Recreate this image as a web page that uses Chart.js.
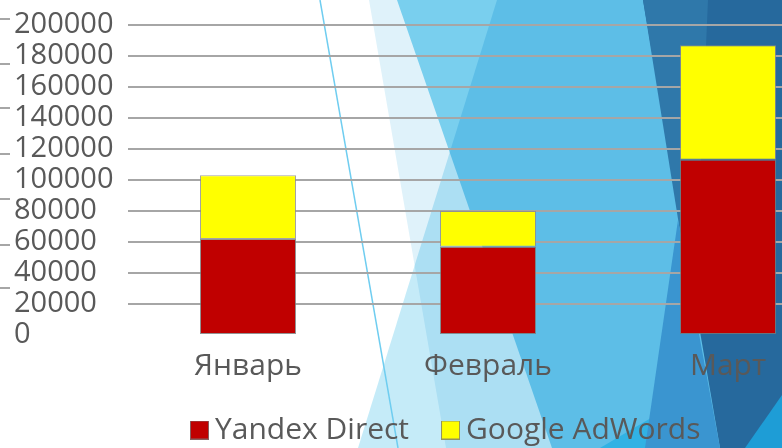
<!DOCTYPE html>
<html>
<head>
<meta charset="utf-8">
<script src="https://cdn.jsdelivr.net/npm/chart.js@4"></script>
<style>
  html, body { margin: 0; padding: 0; overflow: hidden; background: #fff; }
  #wrap { position: relative; width: 782px; height: 448px; overflow: hidden; }
  #bg, #chart { position: absolute; left: 0; top: 0; }
  #bg polygon.m { mix-blend-mode: multiply; }
</style>
</head>
<body>
<div id="wrap">
  <!-- фон слайда (тема Facet) -->
  <svg id="bg" width="782" height="448" viewBox="0 0 782 448">
    <rect width="782" height="448" fill="#ffffff"/>
    <polygon class="m" points="369,0 782,0 782,448 446,448" fill="#dff2fa"/>
    <polygon class="m" points="497,0 782,0 782,448 358,448" fill="#c5ebf8"/>
    <polygon class="m" points="397,0 782,0 782,448 552,448" fill="#8adaf3"/>
    <polygon points="600,448 690,395 705,448" fill="#31b2e4"/>
    <polygon points="643,0 782,0 782,448 720,448" fill="#26699d"/>
    <polygon points="643,0 708,0 695,300 691,300" fill="#2f78aa"/>
    <polygon points="678,220 720,448 645,448" fill="#3a95d0"/>
    <polygon points="745,448 782,395 782,448" fill="#1e9dd6"/>
    <line x1="320" y1="0" x2="398" y2="448" stroke="#6fcdf0" stroke-width="1.5"/>
    <g stroke="#a6a6a6" stroke-width="2">
      <line x1="0" y1="19" x2="10" y2="19"/>
      <line x1="0" y1="64" x2="10" y2="64"/>
      <line x1="0" y1="108" x2="10" y2="108"/>
      <line x1="0" y1="154" x2="10" y2="154"/>
      <line x1="0" y1="199" x2="10" y2="199"/>
      <line x1="0" y1="245" x2="10" y2="245"/>
      <line x1="0" y1="288" x2="10" y2="288"/>
    </g>
  </svg>
  <canvas id="chart" width="848" height="485"></canvas>
</div>
<script>
// данные
const months = ['Январь', 'Февраль', 'Март'];
const yandexDirect = [62000, 57000, 113000];
const googleAdWords = [41000, 23000, 74000];
const yMin = 0;
const yMax = 200000;
const yStep = 20000;

const textColor = '#595959';
const legendStartX = 199;   // начало первого пункта легенды
const legendTextY = 430;    // середина строки легенды

Chart.defaults.font.family = "'Open Sans', sans-serif";

// квадратик легенды как картинка (текст тогда стоит ближе к нему)
function legendBox(fill, stroke) {
  const c = document.createElement('canvas');
  c.width = 19;
  c.height = 19;
  const g = c.getContext('2d');
  g.fillStyle = fill;
  g.fillRect(0, 0, 19, 19);
  g.strokeStyle = stroke;
  g.lineWidth = 1;
  g.strokeRect(0.5, 0.5, 18, 18);
  return c;
}

// сдвиг легенды, чтобы она стояла как на слайде
const legendShift = {
  id: 'legendShift',
  afterLayout(chart) {
    const lg = chart.legend;
    if (!lg || !lg.lineWidths) return;
    const pad = lg.options.labels.padding;
    const fs = lg.options.labels.font.size;
    const start = (lg.left + pad + lg.right - lg.lineWidths[0]) / 2;
    const dx = legendStartX - start;
    lg.left += dx;
    lg.right += dx;
    const dy = legendTextY - (lg.top + pad + fs / 2);
    lg.top += dy;
    lg.bottom += dy;
  }
};

new Chart(document.getElementById('chart'), {
  type: 'bar',
  data: {
    labels: months,
    datasets: [
      {
        label: 'Yandex Direct',
        data: yandexDirect,
        backgroundColor: '#c00000',
        borderColor: 'rgba(120,120,120,0.8)',
        borderWidth: 1,
        borderSkipped: false,
        categoryPercentage: 1,
        barPercentage: 0.4
      },
      {
        label: 'Google AdWords',
        data: googleAdWords,
        backgroundColor: '#ffff00',
        borderColor: 'rgba(140,140,140,0.8)',
        borderWidth: 1,
        borderSkipped: false,
        categoryPercentage: 1,
        barPercentage: 0.4
      }
    ]
  },
  options: {
    responsive: false,
    animation: false,
    layout: { padding: { left: 14, top: 25, right: 0, bottom: 0 } },
    plugins: {
      tooltip: { enabled: false },
      legend: {
        position: 'bottom',
        maxHeight: 80,
        labels: {
          color: textColor,
          font: { size: 30 },
          usePointStyle: true,
          boxWidth: 1,
          boxHeight: 18,
          padding: 41,
          generateLabels(chart) {
            const items = Chart.defaults.plugins.legend.labels.generateLabels(chart);
            items.forEach(it => {
              it.pointStyle = legendBox(it.fillStyle, 'rgba(120,120,120,0.8)');
            });
            return items;
          }
        }
      }
    },
    scales: {
      x: {
        stacked: true,
        grid: { display: false, drawTicks: false },
        border: { display: false },
        ticks: { color: textColor, font: { size: 30 }, padding: 13 },
        afterFit(scale) { scale.height = 70; }
      },
      y: {
        stacked: true,
        min: yMin,
        max: yMax,
        grid: {
          color: ctx => ctx.tick && ctx.tick.value === 0 ? 'rgba(0,0,0,0)' : '#a6a6a6',
          lineWidth: 2,
          drawTicks: false
        },
        border: { display: false },
        ticks: {
          stepSize: yStep,
          autoSkip: false,
          color: textColor,
          font: { size: 29 },
          crossAlign: 'far',
          padding: 0,
          callback: v => String(v)
        },
        afterFit(scale) { scale.width = 114; }
      }
    }
  },
  plugins: [legendShift]
});
</script>
</body>
</html>
